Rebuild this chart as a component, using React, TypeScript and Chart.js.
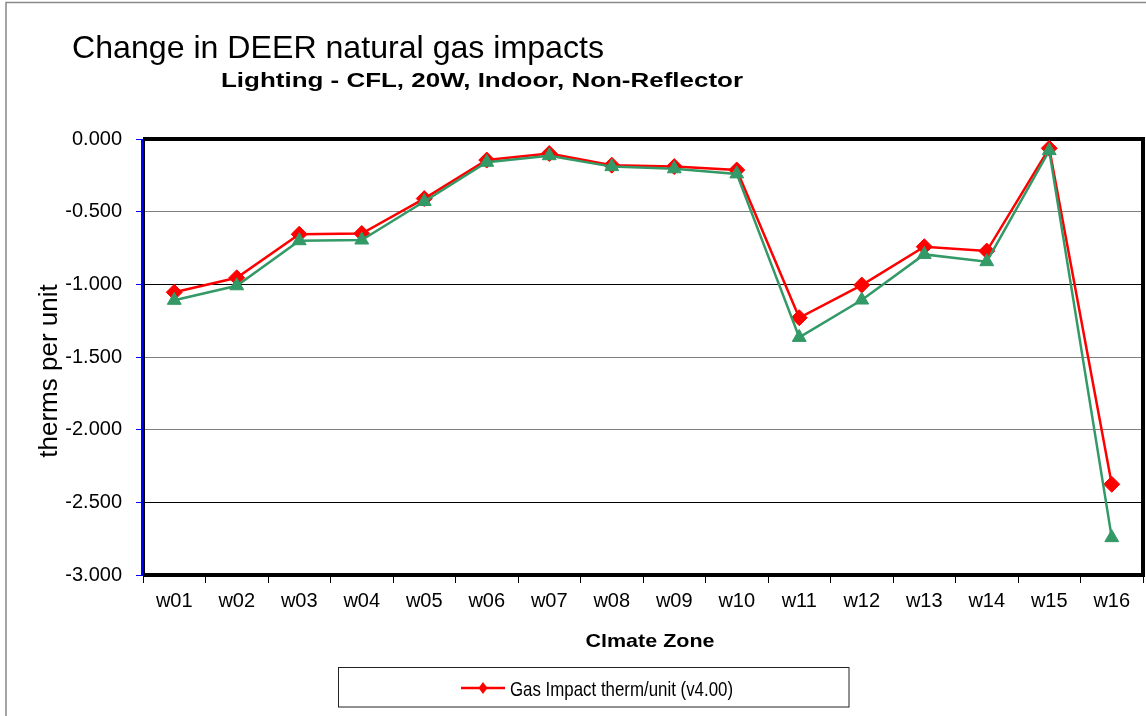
import { useEffect, useRef } from "react";
import { Chart, registerables } from "chart.js";

Chart.register(...registerables);

const categories = ["w01", "w02", "w03", "w04", "w05", "w06", "w07", "w08", "w09", "w10", "w11", "w12", "w13", "w14", "w15", "w16"];
const gasImpactV400 = [-1.055, -0.955, -0.655, -0.65, -0.41, -0.145, -0.1, -0.18, -0.19, -0.213, -1.23, -1.005, -0.741, -0.771, -0.064, -2.376];
const gasImpactOther = [-1.11, -1.01, -0.7, -0.695, -0.43, -0.16, -0.115, -0.19, -0.205, -0.24, -1.365, -1.108, -0.794, -0.844, -0.08, -2.743];
const yMin = -3;
const yMax = 0;
const yStep = 0.5;

const chartTitle = "Change in DEER natural gas impacts";
const chartSubtitle = "Lighting - CFL, 20W, Indoor, Non-Reflector";
const yAxisTitle = "therms per unit";
const xAxisTitle = "Clmate Zone";
const legendLabel = "Gas Impact therm/unit (v4.00)";

const FONT = "'Liberation Sans', Arial, sans-serif";

function fitText(ctx: CanvasRenderingContext2D, text: string, x: number, y: number, font: string, targetW: number, align: CanvasTextAlign) {
  ctx.save();
  ctx.font = font;
  const w = ctx.measureText(text).width;
  const s = targetW / w;
  ctx.translate(x, y);
  ctx.scale(s, 1);
  ctx.textAlign = align;
  ctx.textBaseline = "alphabetic";
  ctx.fillStyle = "#000";
  ctx.fillText(text, 0, 0);
  ctx.restore();
}

const decorPlugin = {
  id: "decor",
  beforeDatasetsDraw(chart: any) {
    const { ctx, chartArea } = chart;
    const { left, right, top, bottom } = chartArea;
    ctx.save();
    ctx.strokeStyle = "#000";
    ctx.lineWidth = 4;
    ctx.beginPath();
    ctx.moveTo(left, top);
    ctx.lineTo(right, top);
    ctx.lineTo(right, bottom);
    ctx.lineTo(left, bottom);
    ctx.stroke();
    ctx.lineWidth = 2;
    ctx.beginPath();
    ctx.moveTo(left + 1, top - 2);
    ctx.lineTo(left + 1, bottom + 2);
    ctx.stroke();
    ctx.strokeStyle = "#0000ff";
    ctx.beginPath();
    ctx.moveTo(left - 1, top);
    ctx.lineTo(left - 1, bottom);
    ctx.stroke();
    ctx.restore();
  },
  afterDraw(chart: any) {
    const { ctx } = chart;
    ctx.save();
    // outer frame
    ctx.strokeStyle = "#888";
    ctx.lineWidth = 1.5;
    ctx.beginPath();
    ctx.moveTo(6, 716);
    ctx.lineTo(6, 2.5);
    ctx.lineTo(1146, 2.5);
    ctx.stroke();

    fitText(ctx, chartTitle, 72, 58, `32px ${FONT}`, 532, "left");
    fitText(ctx, chartSubtitle, 221, 87, `bold 20px ${FONT}`, 522, "left");
    fitText(ctx, xAxisTitle, 650, 647, `bold 19px ${FONT}`, 129, "center");

    // y axis title
    ctx.save();
    ctx.translate(57, 371);
    ctx.rotate(-Math.PI / 2);
    ctx.font = `26px ${FONT}`;
    ctx.textAlign = "center";
    ctx.textBaseline = "alphabetic";
    ctx.fillStyle = "#000";
    ctx.fillText(yAxisTitle, 0, 0);
    ctx.restore();

    // legend
    ctx.strokeStyle = "#222";
    ctx.lineWidth = 1;
    ctx.strokeRect(338.5, 667.5, 510.5, 39.5);
    ctx.strokeStyle = "#ff0000";
    ctx.lineWidth = 2.5;
    ctx.beginPath();
    ctx.moveTo(461, 688);
    ctx.lineTo(505, 688);
    ctx.stroke();
    ctx.fillStyle = "#ff0000";
    ctx.beginPath();
    ctx.moveTo(483, 682);
    ctx.lineTo(487.5, 688);
    ctx.lineTo(483, 694);
    ctx.lineTo(478.5, 688);
    ctx.closePath();
    ctx.fill();
    fitText(ctx, legendLabel, 510, 696, `21px ${FONT}`, 223, "left");
    ctx.restore();
  },
};

export default function App() {
  const ref = useRef<HTMLCanvasElement | null>(null);
  useEffect(() => {
    document.body.style.margin = "0";
    const canvas = ref.current;
    if (!canvas) return;
    const gridColors: Record<string, string> = {
      "0": "#000",
      "-0.5": "#808080",
      "-1": "#000",
      "-1.5": "#808080",
      "-2": "#808080",
      "-2.5": "#000",
      "-3": "#000",
    };
    const chart = new Chart(canvas, {
      type: "line",
      data: {
        labels: categories,
        datasets: [
          {
            label: legendLabel,
            data: gasImpactV400,
            borderColor: "#ff0000",
            backgroundColor: "#ff0000",
            borderWidth: 2.5,
            pointStyle: "rectRot",
            pointRadius: 8,
            pointBorderWidth: 1,
            pointBorderColor: "#ff0000",
            pointBackgroundColor: "#ff0000",
            tension: 0,
            order: 1,
          },
          {
            label: "other",
            data: gasImpactOther,
            borderColor: "#339966",
            backgroundColor: "#339966",
            borderWidth: 2.5,
            pointStyle: "triangle",
            pointRadius: 8,
            pointBorderWidth: 1,
            pointBorderColor: "#339966",
            pointBackgroundColor: "#339966",
            tension: 0,
            order: 0,
          },
        ],
      },
      options: {
        animation: false,
        responsive: false,
        devicePixelRatio: 1,
        layout: { autoPadding: false, padding: { left: 0, top: 139, right: 3, bottom: 0 } },
        plugins: {
          legend: { display: false },
          title: { display: false },
          tooltip: { enabled: false },
        },
        scales: {
          x: {
            type: "category",
            offset: true,
            border: { display: false },
            grid: {
              display: true,
              drawOnChartArea: false,
              offset: true,
              color: "#000",
              tickLength: 8,
              lineWidth: 1,
            },
            ticks: {
              color: "#000",
              font: { family: FONT, size: 20 },
              padding: 6,
              maxRotation: 0,
              autoSkip: false,
            },
            afterFit(scale: any) {
              scale.height = 141;
              scale.paddingLeft = 0;
              scale.paddingRight = 0;
            },
          },
          y: {
            min: yMin,
            max: yMax,
            border: { display: false },
            grid: {
              color: (c: any) => gridColors[String(c.tick ? c.tick.value : 0)] || "#000",
              tickColor: "#0000ff",
              tickLength: 7,
              lineWidth: 1,
            },
            ticks: {
              stepSize: yStep,
              color: "#000",
              font: { family: FONT, size: 20 },
              padding: 14,
              callback: (v: any) => Number(v).toFixed(3),
            },
            afterFit(scale: any) {
              scale.width = 143;
              scale.paddingTop = 0;
              scale.paddingBottom = 0;
            },
          },
        },
      },
      plugins: [decorPlugin],
    });
    return () => chart.destroy();
  }, []);
  return (
    <div style={{ position: "fixed", left: 0, top: 0, width: 1146, height: 716, background: "#fff" }}>
      <canvas ref={ref} width={1146} height={716} />
    </div>
  );
}
